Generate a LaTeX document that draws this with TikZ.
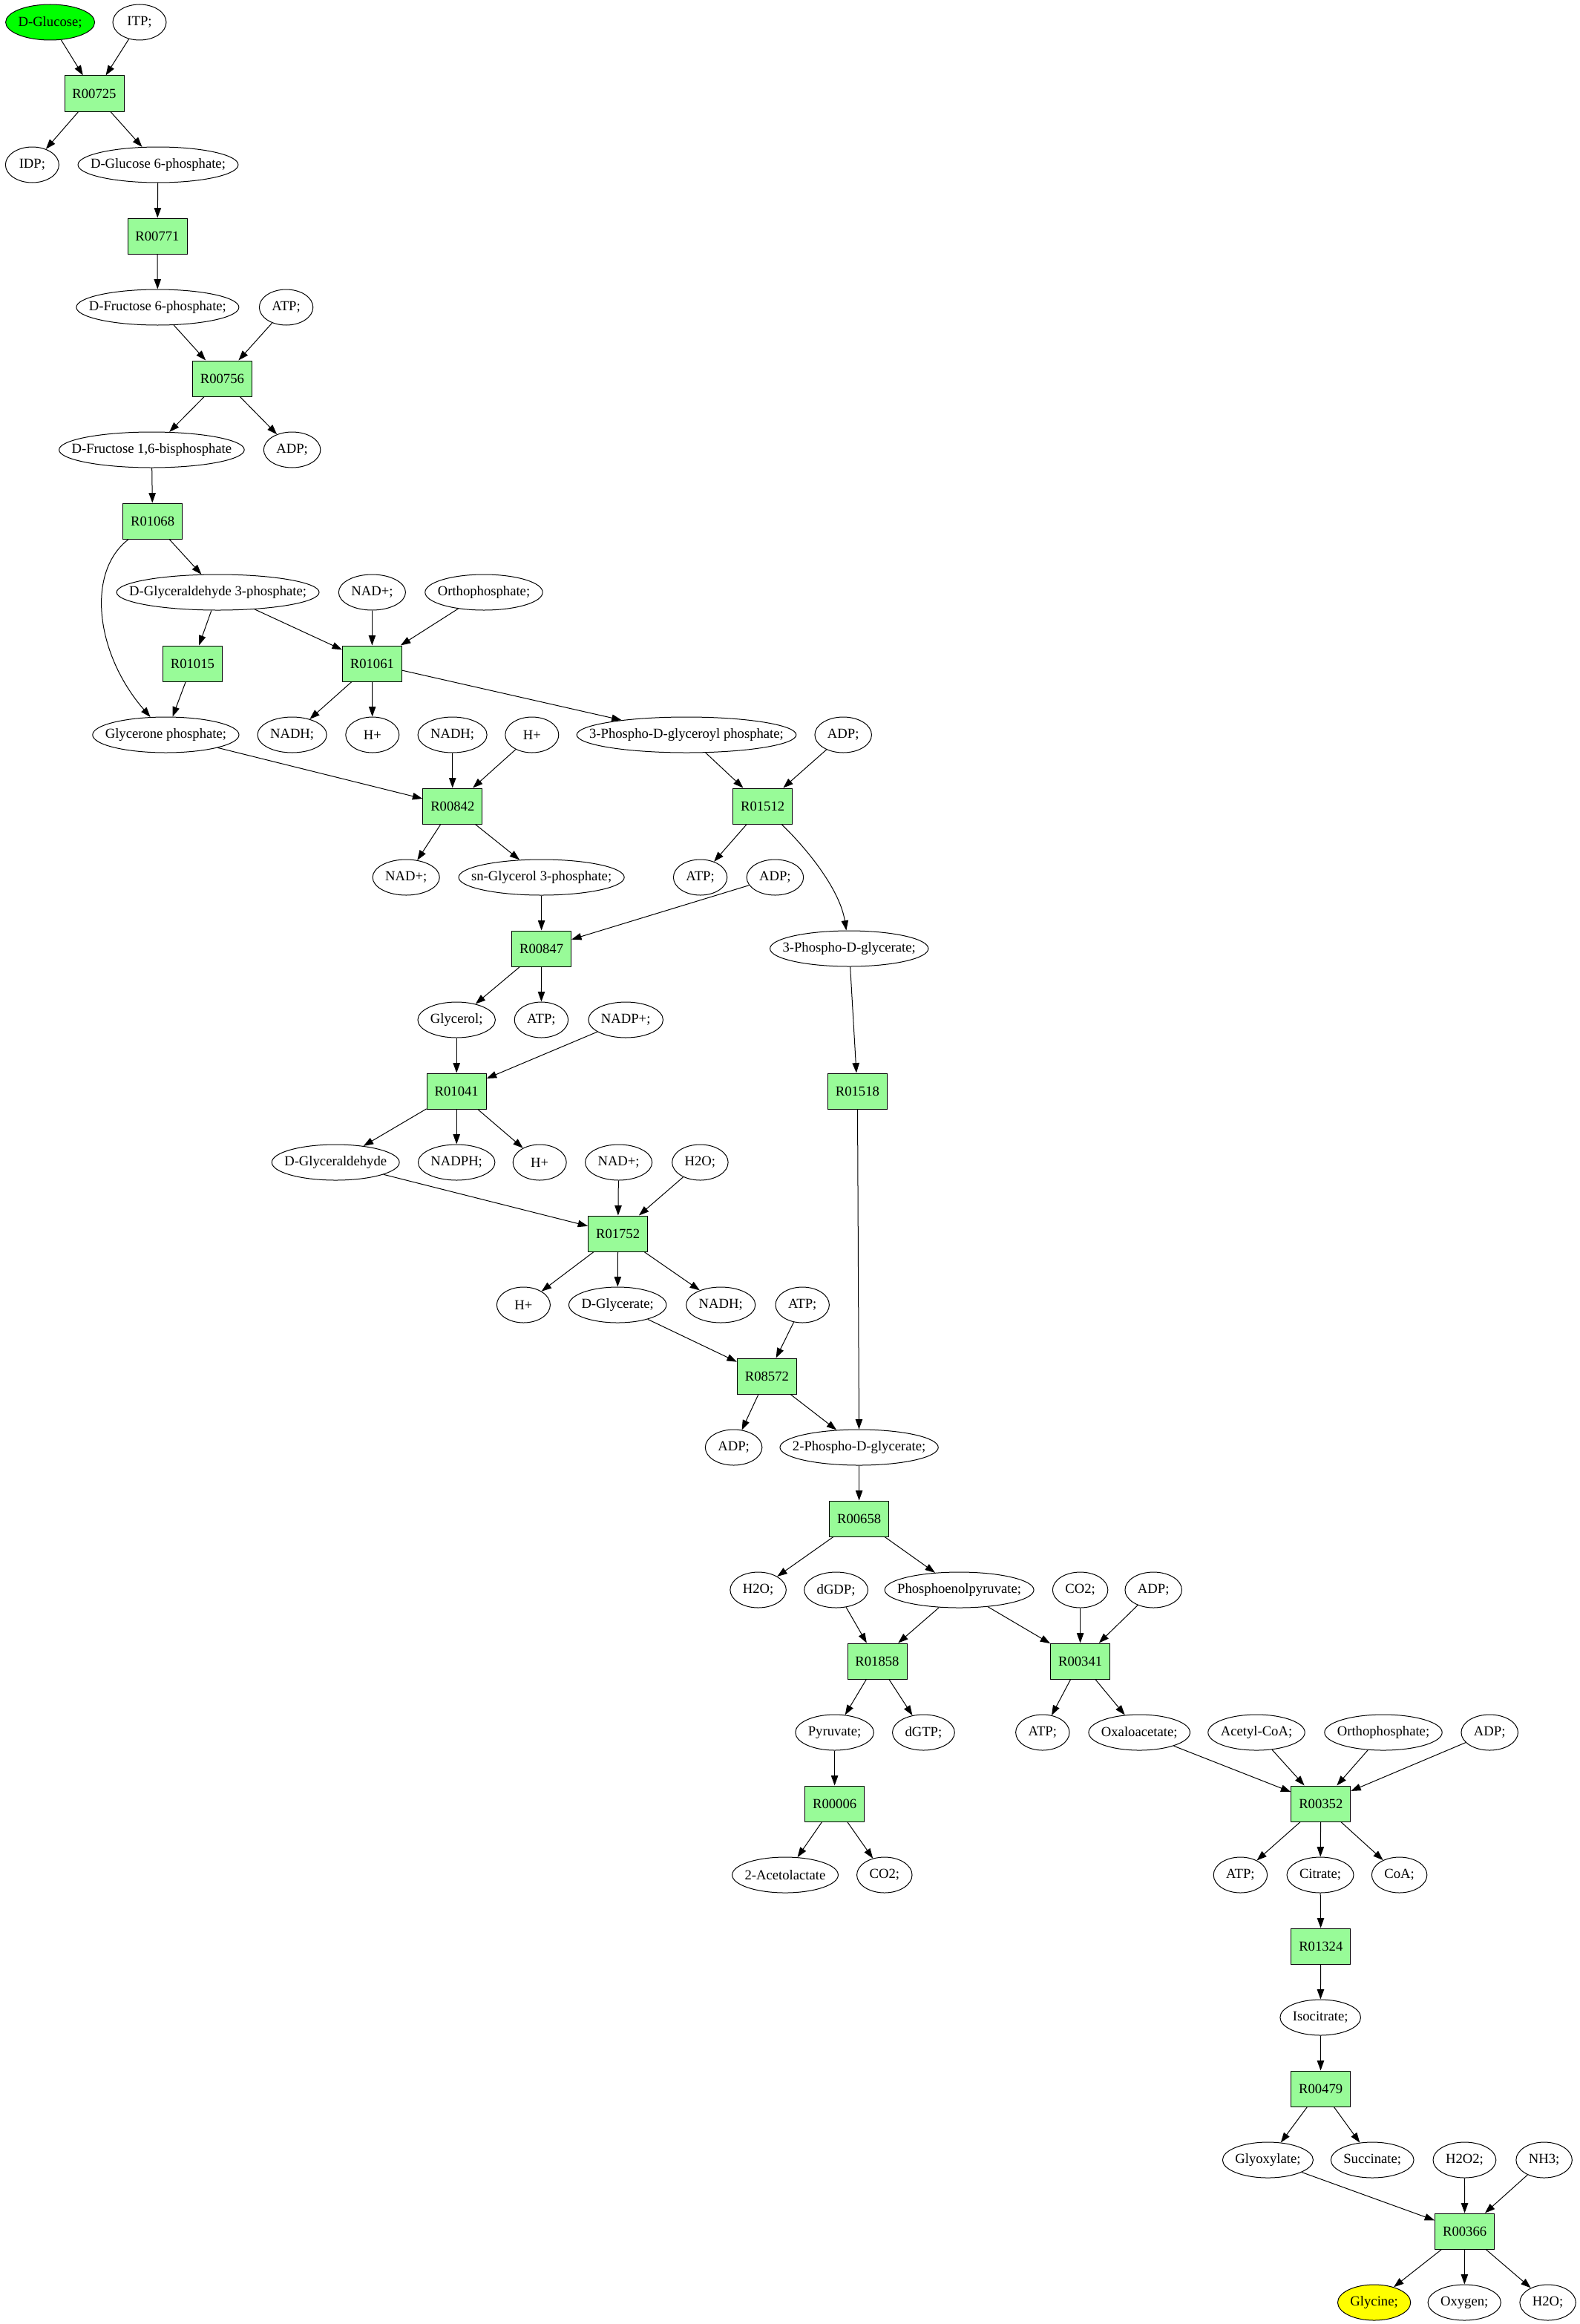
\documentclass[tikz,border=0pt]{standalone}
\usepackage{fontspec}
\setmainfont{Liberation Serif}
\usetikzlibrary{shapes.geometric,arrows.meta}
\definecolor{rgreen}{RGB}{152,251,152}
\definecolor{sgreen}{RGB}{0,255,0}
\definecolor{syellow}{RGB}{255,255,0}
\newcommand\mfont{\fontsize{9.33}{11}\selectfont}
\newlength\mtw
\newsavebox\metmeasurebox
\newcommand\met[4][]{%
  \pgfinterruptpicture\global\sbox\metmeasurebox{\mfont #4}\endpgfinterruptpicture
  \setlength\mtw{\wd\metmeasurebox}%
  \node[metab,minimum width={max(36pt,\mtw+17pt)},#1] (#2) at (#3) {\makebox[0pt]{#4}};}
\newcommand\rxn[2]{\node[rxnbox] (#1) at (#2) {#1};}
\begin{document}
\begin{tikzpicture}[x=1pt,y=-1pt,
  font=\mfont,
  metab/.style={ellipse,draw,line width=0.5pt,minimum height=24pt,inner sep=0pt},
  rxnbox/.style={rectangle,draw,fill=rgreen,line width=0.5pt,minimum width=40pt,minimum height=24pt,inner sep=0pt},
  arr/.style={-{Triangle[length=6.7pt,width=4.7pt]},line width=0.5pt}]
\fill[white] (0,0) rectangle (1064.5,1565.5);
\useasboundingbox (0,0) rectangle (1064.5,1565.5);
\met[fill=sgreen]{glc}{33.8,15}{D-Glucose;}
\met{itp}{94,15}{ITP;}
\rxn{R00725}{63.5,63}
\met{idp}{21.7,111}{IDP;}
\met{g6p}{106.5,111}{D-Glucose 6-phosphate;}
\rxn{R00771}{106,159}
\met{f6p}{106.2,207}{D-Fructose 6-phosphate;}
\met{atp1}{192.8,207}{ATP;}
\rxn{R00756}{149.7,255}
\met{fbp}{102.2,303}{D-Fructose 1,6-bisphosphate}
\met{adp1}{196.8,303}{ADP;}
\rxn{R01068}{102.8,351}
\met{gap}{146.8,399}{D-Glyceraldehyde 3-phosphate;}
\met{nad1}{250.7,399}{NAD+;}
\met{pi1}{326,399}{Orthophosphate;}
\rxn{R01015}{129.7,447}
\rxn{R01061}{250.7,447}
\met{dhap}{111.7,495}{Glycerone phosphate;}
\met{nadh1}{196.8,495}{NADH;}
\met{h1}{250.9,495}{H+}
\met{nadh2}{304.8,495}{NADH;}
\met{h2}{358.4,495}{H+}
\met{bpg}{462.5,495}{3-Phospho-D-glyceroyl phosphate;}
\met{adp2}{568.1,495}{ADP;}
\rxn{R00842}{304.9,543}
\rxn{R01512}{513.8,543}
\met{nad2}{273.6,591}{NAD+;}
\met{g3p}{364.8,591}{sn-Glycerol 3-phosphate;}
\met{atp2}{471.8,591}{ATP;}
\met{adp3}{522.2,591}{ADP;}
\rxn{R00847}{364.8,639}
\met{pg3}{572.1,639}{3-Phospho-D-glycerate;}
\met{glyc}{307.6,687}{Glycerol;}
\met{atp3}{364.7,687}{ATP;}
\met{nadp}{421.6,687}{NADP+;}
\rxn{R01041}{307.6,735}
\rxn{R01518}{577.7,735}
\met{glyald}{226.1,783}{D-Glyceraldehyde}
\met{nadph}{307.6,783}{NADPH;}
\met{h3}{363.6,783}{H+}
\met{nad3}{416.8,783}{NAD+;}
\met{h2oa}{471.7,783}{H2O;}
\rxn{R01752}{416.3,831}
\met{h4}{352.7,879}{H+}
\met{glyt}{416.1,879}{D-Glycerate;}
\met{nadh3}{485.6,879}{NADH;}
\met{atp4}{540.6,879}{ATP;}
\rxn{R08572}{516.7,927}
\met{adp4}{494.3,975}{ADP;}
\met{pg2}{578.8,975}{2-Phospho-D-glycerate;}
\rxn{R00658}{578.8,1023}
\met{h2ob}{510.8,1071}{H2O;}
\met{dgdp}{563.3,1071}{dGDP;}
\met{pep}{646.3,1071}{Phosphoenolpyruvate;}
\met{co2a}{727.8,1071}{CO2;}
\met{adp5}{777.1,1071}{ADP;}
\rxn{R01858}{591,1119}
\rxn{R00341}{727.8,1119}
\met{pyr}{562.3,1167}{Pyruvate;}
\met{dgtp}{622.2,1167}{dGTP;}
\met{atp5}{702.4,1167}{ATP;}
\met{oaa}{767.6,1167}{Oxaloacetate;}
\met{accoa}{846.5,1167}{Acetyl-CoA;}
\met{pi2}{932,1167}{Orthophosphate;}
\met{adp6}{1003.6,1167}{ADP;}
\rxn{R00006}{562.3,1215}
\rxn{R00352}{889.9,1215}
\met{alac}{529,1263}{2-Acetolactate}
\met{co2b}{595.9,1263}{CO2;}
\met{atp6}{835.7,1263}{ATP;}
\met{cit}{889.5,1263}{Citrate;}
\met{coa}{942.8,1263}{CoA;}
\rxn{R01324}{889.9,1311}
\met{icit}{889.6,1359}{Isocitrate;}
\rxn{R00479}{889.8,1407}
\met{glx}{854.2,1455}{Glyoxylate;}
\met{succ}{924.6,1455}{Succinate;}
\met{hoo}{986.7,1455}{H2O2;}
\met{nh3}{1040.3,1455}{NH3;}
\rxn{R00366}{986.8,1503}
\met[fill=syellow]{gly}{925.8,1551}{Glycine;}
\met{oxy}{986.6,1551}{Oxygen;}
\met{h2oc}{1042.8,1551}{H2O;}
% edges
\draw[arr] (glc) -- (R00725);
\draw[arr] (itp) -- (R00725);
\draw[arr] (R00725) -- (idp);
\draw[arr] (R00725) -- (g6p);
\draw[arr] (g6p) -- (R00771);
\draw[arr] (R00771) -- (f6p);
\draw[arr] (f6p) -- (R00756);
\draw[arr] (atp1) -- (R00756);
\draw[arr] (R00756) -- (fbp);
\draw[arr] (R00756) -- (adp1);
\draw[arr] (fbp) -- (R01068);
\draw[arr] (R01068) -- (gap);
\draw[arr] (R01068) .. controls (58,385) and (64,440) .. (dhap);
\draw[arr] (gap) -- (R01015);
\draw[arr] (gap) -- (R01061);
\draw[arr] (nad1) -- (R01061);
\draw[arr] (pi1) -- (R01061);
\draw[arr] (R01015) -- (dhap);
\draw[arr] (R01061) -- (nadh1);
\draw[arr] (R01061) -- (h1);
\draw[arr] (R01061) -- (bpg);
\draw[arr] (dhap) -- (R00842);
\draw[arr] (nadh2) -- (R00842);
\draw[arr] (h2) -- (R00842);
\draw[arr] (bpg) -- (R01512);
\draw[arr] (adp2) -- (R01512);
\draw[arr] (R00842) -- (nad2);
\draw[arr] (R00842) -- (g3p);
\draw[arr] (R01512) -- (atp2);
\draw[arr] (R01512) .. controls (545,573) and (566,600) .. (pg3);
\draw[arr] (g3p) -- (R00847);
\draw[arr] (adp3) -- (R00847);
\draw[arr] (R00847) -- (glyc);
\draw[arr] (R00847) -- (atp3);
\draw[arr] (glyc) -- (R01041);
\draw[arr] (nadp) -- (R01041);
\draw[arr] (pg3) -- (R01518);
\draw[arr] (R01041) -- (glyald);
\draw[arr] (R01041) -- (nadph);
\draw[arr] (R01041) -- (h3);
\draw[arr] (glyald) -- (R01752);
\draw[arr] (nad3) -- (R01752);
\draw[arr] (h2oa) -- (R01752);
\draw[arr] (R01518) -- (pg2);
\draw[arr] (R01752) -- (h4);
\draw[arr] (R01752) -- (glyt);
\draw[arr] (R01752) -- (nadh3);
\draw[arr] (glyt) -- (R08572);
\draw[arr] (atp4) -- (R08572);
\draw[arr] (R08572) -- (adp4);
\draw[arr] (R08572) -- (pg2);
\draw[arr] (pg2) -- (R00658);
\draw[arr] (R00658) -- (h2ob);
\draw[arr] (R00658) -- (pep);
\draw[arr] (dgdp) -- (R01858);
\draw[arr] (pep) -- (R01858);
\draw[arr] (pep) -- (R00341);
\draw[arr] (co2a) -- (R00341);
\draw[arr] (adp5) -- (R00341);
\draw[arr] (R01858) -- (pyr);
\draw[arr] (R01858) -- (dgtp);
\draw[arr] (R00341) -- (atp5);
\draw[arr] (R00341) -- (oaa);
\draw[arr] (pyr) -- (R00006);
\draw[arr] (oaa) -- (R00352);
\draw[arr] (accoa) -- (R00352);
\draw[arr] (pi2) -- (R00352);
\draw[arr] (adp6) -- (R00352);
\draw[arr] (R00006) -- (alac);
\draw[arr] (R00006) -- (co2b);
\draw[arr] (R00352) -- (atp6);
\draw[arr] (R00352) -- (cit);
\draw[arr] (R00352) -- (coa);
\draw[arr] (cit) -- (R01324);
\draw[arr] (R01324) -- (icit);
\draw[arr] (icit) -- (R00479);
\draw[arr] (R00479) -- (glx);
\draw[arr] (R00479) -- (succ);
\draw[arr] (glx) -- (R00366);
\draw[arr] (hoo) -- (R00366);
\draw[arr] (nh3) -- (R00366);
\draw[arr] (R00366) -- (gly);
\draw[arr] (R00366) -- (oxy);
\draw[arr] (R00366) -- (h2oc);
\end{tikzpicture}
\end{document}
